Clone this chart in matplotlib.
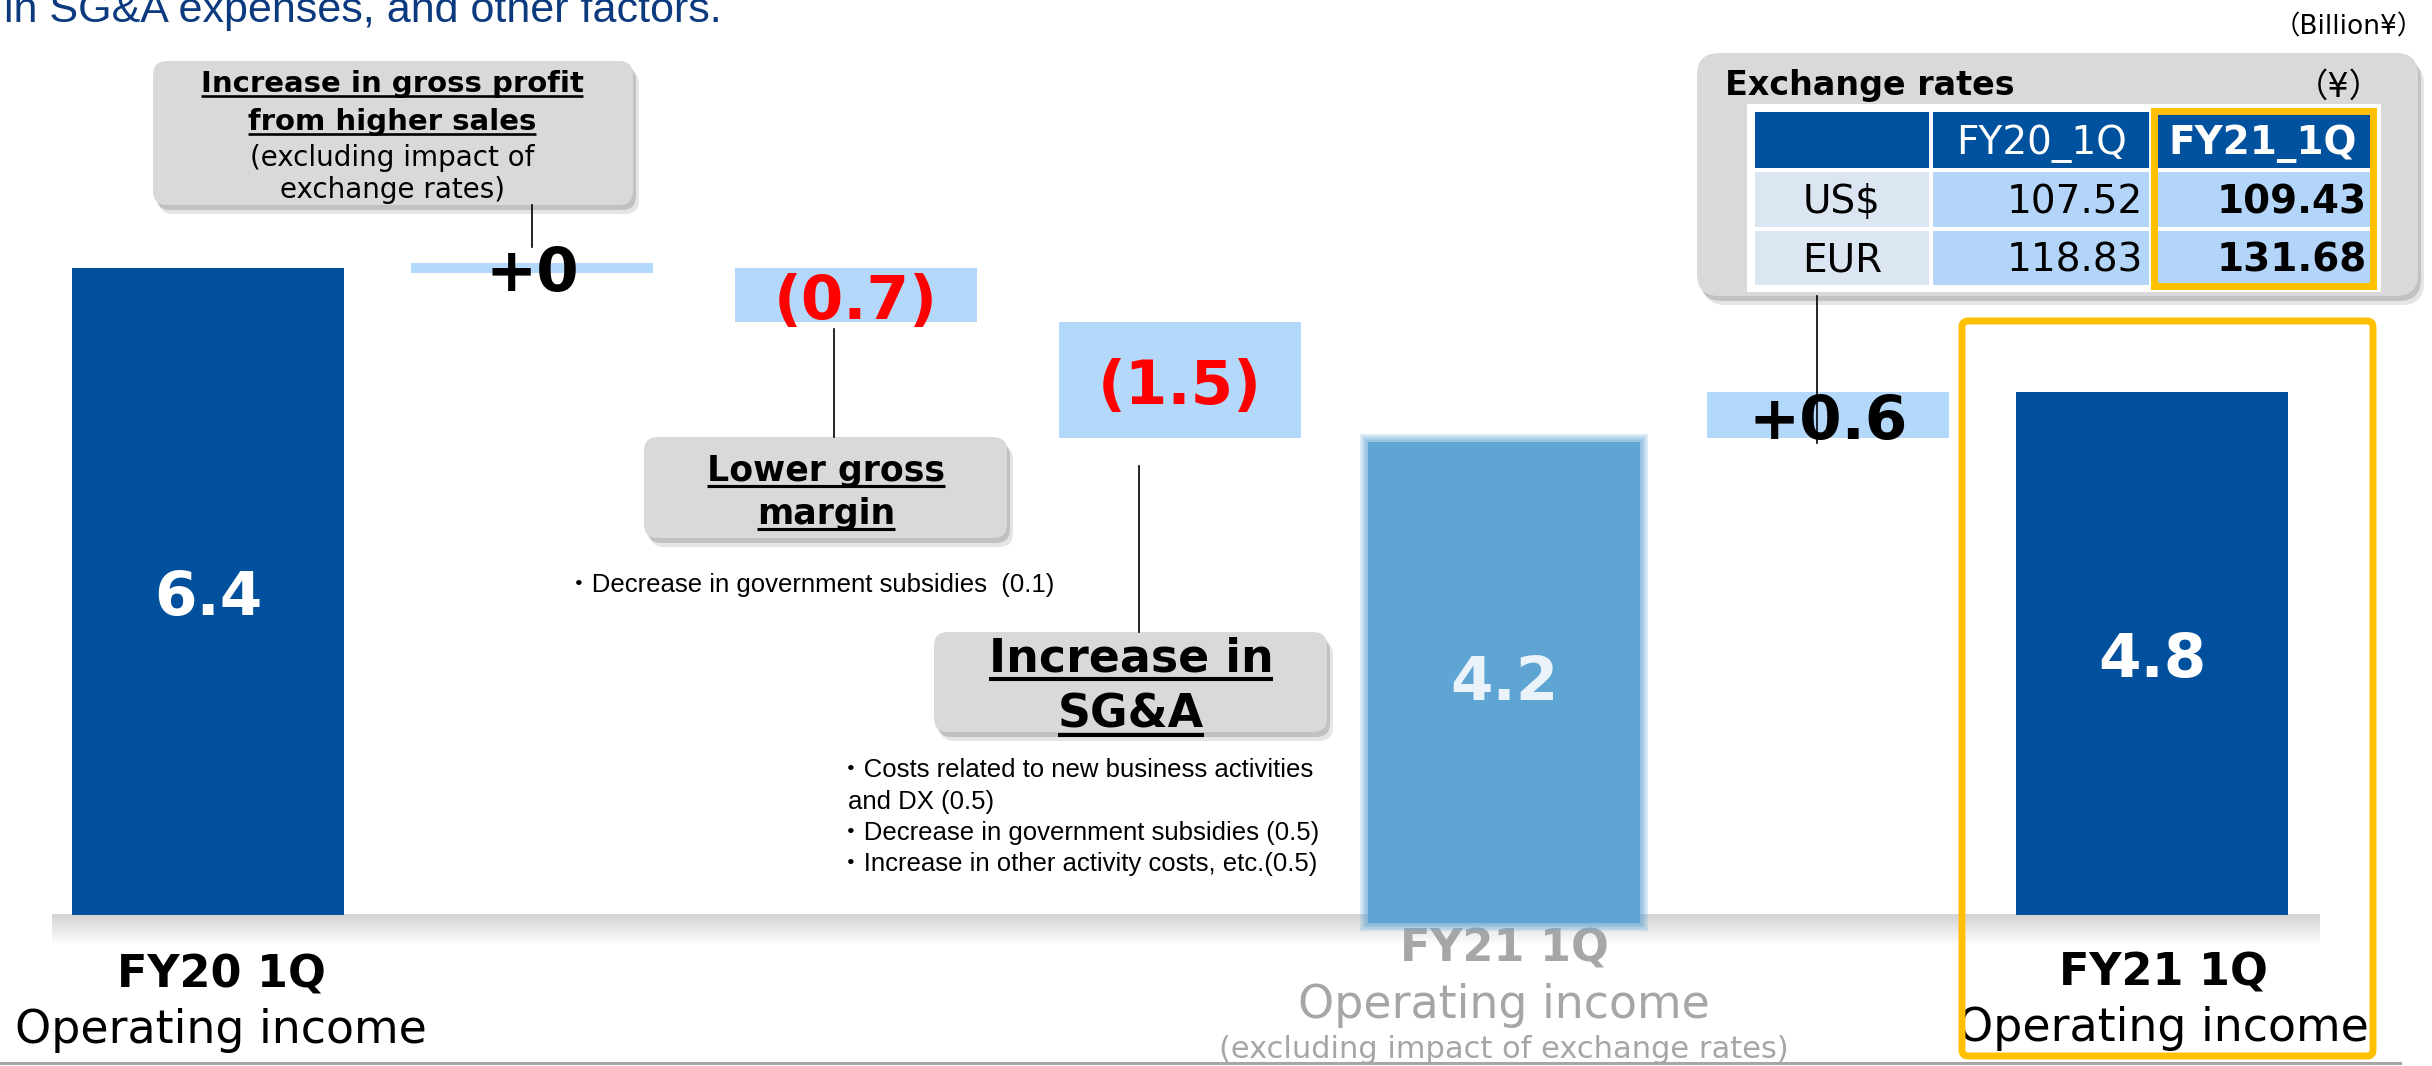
import matplotlib
matplotlib.use('Agg')
import matplotlib.pyplot as plt
import matplotlib.transforms as mtransforms
from matplotlib.patches import FancyBboxPatch, Rectangle
import numpy as np

W, H = 2432, 1066

# waterfall data (Billion yen)
steps = ['FY20 1Q', 'Gross profit from sales', 'Gross margin', 'SG&A',
         'FY21 1Q excl. FX', 'FX impact', 'FY21 1Q']
kinds = ['total', 'delta', 'delta', 'delta', 'total', 'delta', 'total']
values = [6.4, 0.0, -0.7, -1.5, 4.2, 0.6, 4.8]
value_labels = ['6.4', '+0', '(0.7)', '(1.5)', '4.2', '+0.6', '4.8']

# exchange rate table
fx_header = ['', 'FY20_1Q', 'FY21_1Q']
fx_currencies = ['US$', 'EUR']
fx_fy20 = [107.52, 118.83]
fx_fy21 = [109.43, 131.68]

DARK = '#00509E'
LIGHT = '#B4D8FA'
MID = '#5EA5D4'
BOXGREY = '#D9D9D9'
GOLD = '#FFC000'
FLOOR = -1.95
NOTE_FONT = ['Liberation Sans', 'Noto Sans CJK JP']

fig = plt.figure(figsize=(W / 100, H / 100), dpi=100)
ax = fig.add_axes([0, 0, 1, 1])
ax.set_xlim(-0.642, 6.864)
ax.set_ylim(-3.897, 9.858)
ax.axis('off')

# pixel coordinates measured from the top-left corner
pix = mtransforms.Affine2D().scale(1 / W, -1 / H).translate(0, 1) + fig.transFigure
xpix = mtransforms.blended_transform_factory(ax.transData, pix)

# grey floor band with a fade
for k in range(32):
    g = 0.83 + 0.17 * k / 31
    ax.add_patch(Rectangle((52, 914 + k), 2268, 1.2, transform=pix,
                           color=(g, g, g), lw=0, zorder=1))
ax.plot([0, 2400], [1063, 1063], transform=pix, color='#A6A6A6', lw=2.2, zorder=1)


def value_text(x, y, s, color):
    ax.annotate(s, (x, y), xytext=(0, -5), textcoords='offset points', color=color,
                fontsize=44, fontweight='bold', ha='center', va='center', zorder=7)


# bars
level = 0
for i, (kind, v, lab) in enumerate(zip(kinds, values, value_labels)):
    if kind == 'total':
        if i == 4:
            ax.bar(i, v - FLOOR + 0.06, bottom=FLOOR - 0.1, width=0.84, color=MID,
                   lw=0, zorder=3)
            for k in range(1, 5):
                ax.bar(i, v - FLOOR + 0.06 + 0.05 * k, bottom=FLOOR - 0.1 - 0.025 * k,
                       width=0.84 + 0.012 * k, color=MID, alpha=0.22, lw=0, zorder=3)
            value_text(i, (v + FLOOR) / 2, lab, '#EAF2FA')
        else:
            ax.bar(i, v - FLOOR, bottom=FLOOR, width=0.84, color=DARK, zorder=2)
            value_text(i, (v + FLOOR) / 2, lab, 'white')
        level = v
    else:
        if v == 0:
            bottom, height = level - 0.07, 0.14
        else:
            bottom, height = level, v
        ax.bar(i, height, bottom=bottom, width=0.747, color=LIGHT, zorder=2)
        value_text(i, bottom + height / 2, lab, 'red' if v < 0 else 'black')
        level += v

# category labels
ax.text(0.04, 988, 'FY20 1Q', transform=xpix, fontsize=32, fontweight='bold',
        ha='center', va='baseline')
ax.text(0.04, 1043, 'Operating income', transform=xpix, fontsize=33,
        ha='center', va='baseline')
ax.text(4, 962, 'FY21 1Q', transform=xpix, fontsize=32, fontweight='bold',
        color='#A6A6A6', ha='center', va='baseline', zorder=1.5)
ax.text(4, 1018, 'Operating income', transform=xpix, fontsize=33,
        color='#A6A6A6', ha='center', va='baseline', zorder=1.5)
ax.text(4, 1058, '(excluding impact of exchange rates)', transform=xpix, fontsize=22,
        color='#A6A6A6', ha='center', va='baseline', zorder=1.5)
ax.text(6.035, 985, 'FY21 1Q', transform=xpix, fontsize=32, fontweight='bold',
        ha='center', va='baseline')
ax.text(6.035, 1041, 'Operating income', transform=xpix, fontsize=33,
        ha='center', va='baseline')

# highlight frame around the last bar
ax.add_patch(FancyBboxPatch((1962, 321), 411, 735, boxstyle='round,pad=0,rounding_size=6',
                            transform=pix, fc='none', ec=GOLD, lw=5, zorder=6))

# header texts
ax.text(4, 22, 'in SG&A expenses, and other factors.', transform=pix, fontsize=31,
        color='#0B3A7E', family=NOTE_FONT, ha='left', va='baseline')
ax.text(2424, 34, '（Billion¥）', transform=pix, fontsize=19,
        family=['DejaVu Sans', 'Noto Sans CJK JP'], ha='right', va='baseline')


def grey_box(x0, y0, x1, y1, r=14):
    for dx, dy, a in [(3, 5, 0.35), (6, 9, 0.2)]:
        ax.add_patch(FancyBboxPatch((x0 + dx, y0 + dy), x1 - x0, y1 - y0,
                                    boxstyle=f'round,pad=0,rounding_size={r}',
                                    transform=pix, fc='#7F7F7F', ec='none', alpha=a, zorder=4))
    ax.add_patch(FancyBboxPatch((x0, y0), x1 - x0, y1 - y0,
                                boxstyle=f'round,pad=0,rounding_size={r}',
                                transform=pix, fc=BOXGREY, ec='none', zorder=4.5))


underlined = []


def uline_text(x, y, s, size):
    t = ax.text(x, y, s, transform=pix, fontsize=size, fontweight='bold',
                ha='center', va='baseline', zorder=6)
    underlined.append((t, y, size))


def connector(x, y0, y1):
    ax.plot([x, x], [y0, y1], transform=pix, color='black', lw=1.2, zorder=5)


# callout: gross profit
grey_box(153, 61, 633, 205)
uline_text(392, 92, 'Increase in gross profit', 21)
uline_text(392, 130, 'from higher sales', 21)
ax.text(392, 166, '(excluding impact of', transform=pix, fontsize=20,
        ha='center', va='baseline', zorder=6)
ax.text(392, 198, 'exchange rates)', transform=pix, fontsize=20,
        ha='center', va='baseline', zorder=6)
connector(532, 205, 247)

# callout: gross margin
grey_box(644, 437, 1007, 538)
uline_text(826, 481, 'Lower gross', 25)
uline_text(826, 524, 'margin', 25)
connector(834, 329, 437)
ax.text(566, 592, '・Decrease in government subsidies  (0.1)', transform=pix,
        fontsize=18.5, family=NOTE_FONT, ha='left', va='baseline')

# callout: SG&A
grey_box(934, 632, 1327, 732)
uline_text(1131, 672, 'Increase in', 33)
uline_text(1131, 728, 'SG&A', 33)
connector(1139, 466, 632)
notes = ['・Costs related to new business activities', 'and DX (0.5)',
         '・Decrease in government subsidies (0.5)',
         '・Increase in other activity costs, etc.(0.5)']
for k, line in enumerate(notes):
    x0 = 838 if line.startswith('・') else 848
    ax.text(x0, 777 + k * 31.5, line, transform=pix, fontsize=18.5,
            family=NOTE_FONT, ha='left', va='baseline')

# exchange rate box
grey_box(1697, 53, 2418, 296, r=22)
ax.text(1725, 95, 'Exchange rates', transform=pix, fontsize=24, fontweight='bold',
        ha='left', va='baseline', zorder=6)
ax.text(2383, 97, '（¥）', transform=pix, fontsize=24,
        family=['DejaVu Sans', 'Noto Sans CJK JP'], ha='right', va='baseline', zorder=6)
connector(1817, 296, 443)

col_x = [1753, 1931, 2151, 2375]
row_y = [110, 170, 229, 287]
ax.add_patch(Rectangle((1747, 104), 634, 188, transform=pix, fc='white', ec='none', zorder=5))
table_rows = [fx_header] + [[c, f'{a:.2f}', f'{b:.2f}']
                            for c, a, b in zip(fx_currencies, fx_fy20, fx_fy21)]
for r, row in enumerate(table_rows):
    for c, txt in enumerate(row):
        x0, x1 = col_x[c] + 2, col_x[c + 1] - 2
        y0, y1 = row_y[r] + 2, row_y[r + 1] - 2
        if r == 0:
            fc = '#00519E'
        elif c == 0:
            fc = '#DCE6F2'
        else:
            fc = '#B3D5F9'
        ax.add_patch(Rectangle((x0, y0), x1 - x0, y1 - y0, transform=pix,
                               fc=fc, ec='none', zorder=5.5))
        base = y1 - 14
        weight = 'bold' if c == 2 else 'normal'
        if r == 0:
            ax.text((x0 + x1) / 2, base, txt, transform=pix, fontsize=28, color='white',
                    fontweight=weight, ha='center', va='baseline', zorder=6)
        elif c == 0:
            ax.text((x0 + x1) / 2, base, txt, transform=pix, fontsize=28,
                    ha='center', va='baseline', zorder=6)
        else:
            ax.text(x1 - 6, base, txt, transform=pix, fontsize=28, fontweight=weight,
                    ha='right', va='baseline', zorder=6)
ax.add_patch(Rectangle((2154, 111), 219, 175, transform=pix, fc='none',
                       ec=GOLD, lw=5, zorder=7))

# underline the bold callout headings
fig.canvas.draw()
for t, y, size in underlined:
    bb = t.get_window_extent()
    yy = y + size * 0.2
    ax.plot([bb.x0, bb.x1], [yy, yy], transform=pix, color='black',
            lw=size * 0.09, solid_capstyle='butt', zorder=6)

fig.savefig('out.png', dpi=100)
